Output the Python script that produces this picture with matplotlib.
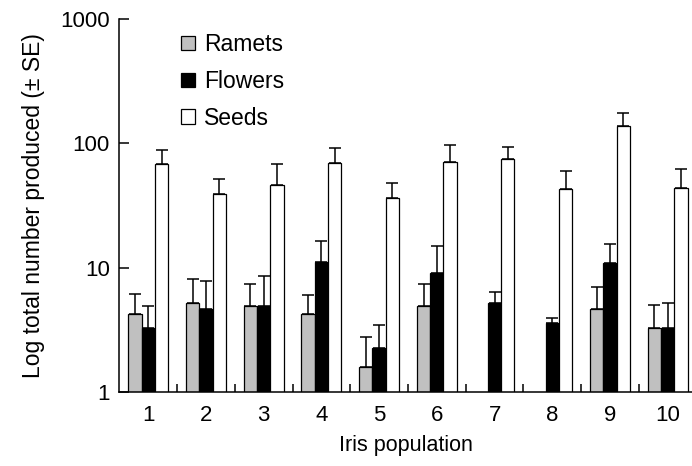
import numpy as np
import matplotlib
matplotlib.use("Agg")
import matplotlib.pyplot as plt
from matplotlib.patches import Patch

plt.rcParams['font.family'] = ['Liberation Sans', 'DejaVu Sans']

populations = [1, 2, 3, 4, 5, 6, 7, 8, 9, 10]
ramets = [4.25, 5.2, 4.9, 4.25, 1.6, 4.9, np.nan, np.nan, 4.65, 3.25]
ramets_se = [1.95, 2.95, 2.5, 1.8, 1.2, 2.55, np.nan, np.nan, 2.3, 1.8]
flowers = [3.27, 4.66, 4.93, 11.2, 2.28, 9.1, 5.24, 3.57, 10.95, 3.25]
flowers_se = [1.65, 3.2, 3.65, 5.3, 1.18, 6.0, 1.16, 0.35, 4.55, 1.95]
seeds = [68.4, 38.9, 46.5, 70.1, 36.5, 70.6, 74.5, 42.7, 138.8, 43.8]
seeds_se = [20.4, 12.8, 21.9, 21.5, 11.5, 26.8, 19.9, 17.7, 35.8, 18.5]

fig = plt.figure(figsize=(6.92, 4.66), dpi=100)
ax = fig.add_axes([0.1725, 0.1585, 0.8275, 0.8005])

x = np.array(populations, dtype=float)
w = 0.23
series = [(ramets, ramets_se, '#c0c0c0', -w),
          (flowers, flowers_se, 'black', 0.0),
          (seeds, seeds_se, 'white', w)]
for vals, se, col, off in series:
    vals = np.array(vals)
    se = np.array(se)
    ax.bar(x + off, vals, width=w, color=col, edgecolor='black', linewidth=0.9, zorder=2)
    ax.errorbar(x + off, vals, yerr=[np.zeros_like(se), se], fmt='none',
                ecolor='black', elinewidth=1.1, capsize=4.5, capthick=1.1, zorder=1)

ax.set_yscale('log')
ax.set_ylim(1, 1000)
ax.set_xlim(0.5, 10.42)
ax.set_yticks([1, 10, 100, 1000])
ax.set_yticklabels(['1', '10', '100', '1000'])
ax.yaxis.set_minor_locator(matplotlib.ticker.NullLocator())
ax.set_xticks(x)
ax.set_xticklabels([str(p) for p in populations])
ax.set_xticks(np.arange(1.5, 10, 1.0), minor=True)

ax.tick_params(axis='y', which='major', direction='in', length=7, width=1.1, labelsize=16, pad=7)
ax.tick_params(axis='x', which='major', length=0, labelsize=16, pad=9)
ax.tick_params(axis='x', which='minor', direction='in', length=5.5, width=1.1)

for s in ['top', 'right']:
    ax.spines[s].set_visible(False)
for s in ['left', 'bottom']:
    ax.spines[s].set_linewidth(1.1)

ax.set_xlabel('Iris population', fontsize=15.5, labelpad=7)
ax.set_ylabel('Log total number produced (± SE)', fontsize=16.5, labelpad=11)

handles = [Patch(facecolor='#c0c0c0', edgecolor='black', linewidth=0.9),
           Patch(facecolor='black', edgecolor='black', linewidth=0.9),
           Patch(facecolor='white', edgecolor='black', linewidth=0.9)]
fig.legend(handles, ['Ramets', 'Flowers', 'Seeds'], loc='upper left',
           bbox_to_anchor=(0.262, 0.929), bbox_transform=fig.transFigure,
           frameon=False, fontsize=16.5, handlelength=0.58, handleheight=0.58,
           handletextpad=0.42, labelspacing=0.6, borderpad=0, borderaxespad=0)

fig.savefig('out.png', dpi=100)
